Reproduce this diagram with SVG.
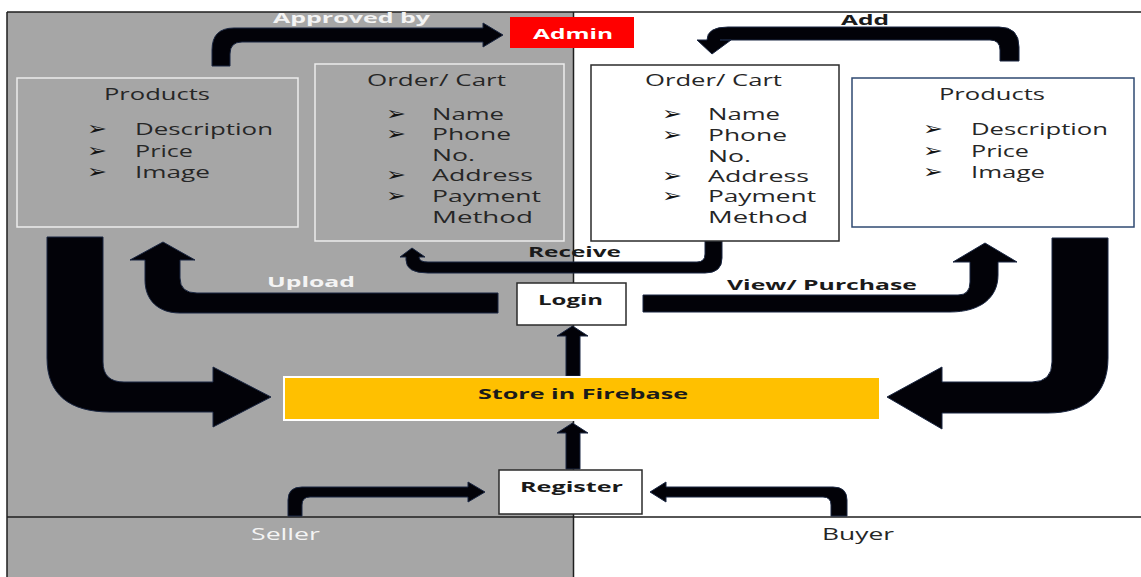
<svg xmlns="http://www.w3.org/2000/svg" width="1141" height="577" viewBox="0 0 1141 577">
  <style>
    .t { font-family: "Open Sans", "Liberation Sans", sans-serif; font-size: 15.5px; fill: #262626; }
    .lbl { font-family: "Open Sans", "Liberation Sans", sans-serif; font-size: 15px; font-weight: 700; fill: #1a1a1a; }
    .wt { fill: #f4f4f4; }
    .bul { font-family: "DejaVu Sans", sans-serif; font-size: 19px; font-weight: 700; fill: #141414; }
    .box-light { fill: none; stroke: #ececec; stroke-width: 1.5; }
    .box-dark { fill: #ffffff; stroke: #2b2b2b; stroke-width: 1.5; }
    .box-navy { fill: #ffffff; stroke: #2f4a72; stroke-width: 1.5; }
    .arrow { fill: #020208; stroke: #1b2742; stroke-width: 1; stroke-linejoin: round; }
    .lane { stroke: #1e1e1e; stroke-width: 1.5; fill: none; }
  </style>

  <!-- swimlane background: seller (grey) and buyer (white) -->
  <g id="lanes">
    <rect x="0" y="0" width="1141" height="577" fill="#ffffff"/>
    <rect x="7" y="12" width="566" height="565" fill="#a6a6a6"/>
    <line class="lane" x1="7" y1="12" x2="1141" y2="12"/>
    <line class="lane" x1="7" y1="12" x2="7" y2="577"/>
    <line class="lane" x1="7" y1="517" x2="1141" y2="517"/>
    <line class="lane" x1="573.5" y1="12" x2="573.5" y2="577" stroke-width="2"/>
    <text class="t wt" x="251" y="540" font-size="15" textLength="69" lengthAdjust="spacingAndGlyphs">Seller</text>
    <text class="t" x="822" y="540" font-size="15" textLength="72" lengthAdjust="spacingAndGlyphs">Buyer</text>
  </g>

  <!-- connectors -->
  <g id="connectors">
    <!-- seller products -> admin approval -->
    <path class="arrow" d="M212,66 V50 Q212,28 234,28 H483 V23 L503,35 L483,47 V42 H242 Q230,42 230,54 V66 Z"/>
    <!-- buyer products -> buyer cart -->
    <path class="arrow" d="M1019,61 V47 Q1019,27 999,27 H728 Q707,27 707,40 H697 L712,54 L731,40 H720 Q721,40 728,40 H990 Q1000,40 1000,50 V61 Z"/>
    <!-- seller products -> firebase -->
    <path class="arrow" d="M47,237 H103 V362 Q103,382 124,382 H213 V367 L271,397 L213,427 V412 H110 C70,412 47,395 47,358 Z"/>
    <!-- buyer products -> firebase -->
    <path class="arrow" d="M1052,238 H1108 V358 C1108,395 1085,413 1048,413 H942 V429 L887,397 L942,367 V382 H1032 Q1052,382 1052,362 Z"/>
    <!-- login -> upload products -->
    <path class="arrow" d="M498,293 H197 Q180,293 180,278 V260 H195 L163,242 L130,260 H145 V280 C145,300 158,313 180,313 H498 Z"/>
    <!-- login -> view / purchase -->
    <path class="arrow" d="M643,295 H958 Q970,295 970,282 V262 H953 L985,243 L1017,262 H998 V275 C998,298 980,312 950,312 H643 Z"/>
    <!-- buyer cart -> seller receives order -->
    <path class="arrow" d="M722,241 V258 Q722,273 705,273 H428 Q406,273 406,260 V257 H400 L412,248 L425,257 H419 Q419,262 428,262 H697 Q705,262 705,254 V241 Z"/>
    <!-- firebase -> login -->
    <path class="arrow" d="M566,376 V336 H557 L572.5,326 L588,336 H580 V376 Z"/>
    <!-- register -> firebase -->
    <path class="arrow" d="M566,469 V433 H557 L572.5,423 L588,433 H580 V469 Z"/>
    <!-- seller -> register -->
    <path class="arrow" d="M288,516 V500 Q288,487 302,487 H468 V482 L485,492 L468,502 V497 H310 Q302,497 302,505 V516 Z"/>
    <!-- buyer -> register -->
    <path class="arrow" d="M847,516 V500 Q847,487 833,487 H666 V482 L650,492 L666,502 V497 H823 Q831,497 831,505 V516 Z"/>

    <text class="lbl wt" x="273" y="23" textLength="157" lengthAdjust="spacingAndGlyphs">Approved by</text>
    <text class="lbl" x="841" y="25" textLength="48" lengthAdjust="spacingAndGlyphs">Add</text>
    <text class="lbl" x="528" y="257" font-size="14.5" textLength="93" lengthAdjust="spacingAndGlyphs">Receive</text>
    <text class="lbl wt" x="267" y="287" textLength="88" lengthAdjust="spacingAndGlyphs">Upload</text>
    <text class="lbl" x="727" y="290" textLength="190" lengthAdjust="spacingAndGlyphs">View/ Purchase</text>
  </g>

  <!-- seller: products -->
  <g id="seller-products">
    <rect class="box-light" x="17" y="78" width="281" height="149"/>
    <text class="t" x="104" y="100" textLength="106" lengthAdjust="spacingAndGlyphs">Products</text>
    <text class="bul" x="87" y="135" textLength="20" lengthAdjust="spacingAndGlyphs">➢</text>
    <text class="bul" x="87" y="157" textLength="20" lengthAdjust="spacingAndGlyphs">➢</text>
    <text class="bul" x="87" y="178" textLength="20" lengthAdjust="spacingAndGlyphs">➢</text>
    <text class="t" x="135" y="135" textLength="138" lengthAdjust="spacingAndGlyphs">Description</text>
    <text class="t" x="135" y="157" textLength="58" lengthAdjust="spacingAndGlyphs">Price</text>
    <text class="t" x="135" y="178" textLength="75" lengthAdjust="spacingAndGlyphs">Image</text>
  </g>

  <!-- seller: order / cart -->
  <g id="seller-order">
    <rect class="box-light" x="315" y="64" width="249" height="177"/>
    <text class="t" x="367" y="86" textLength="139" lengthAdjust="spacingAndGlyphs">Order/ Cart</text>
    <text class="bul" x="386" y="120" textLength="20" lengthAdjust="spacingAndGlyphs">➢</text>
    <text class="bul" x="386" y="140" textLength="20" lengthAdjust="spacingAndGlyphs">➢</text>
    <text class="bul" x="386" y="181" textLength="20" lengthAdjust="spacingAndGlyphs">➢</text>
    <text class="bul" x="386" y="202" textLength="20" lengthAdjust="spacingAndGlyphs">➢</text>
    <text class="t" x="432" y="120" textLength="72" lengthAdjust="spacingAndGlyphs">Name</text>
    <text class="t" x="432" y="140" textLength="79" lengthAdjust="spacingAndGlyphs">Phone</text>
    <text class="t" x="432" y="161" textLength="43" lengthAdjust="spacingAndGlyphs">No.</text>
    <text class="t" x="432" y="181" textLength="101" lengthAdjust="spacingAndGlyphs">Address</text>
    <text class="t" x="432" y="202" textLength="109" lengthAdjust="spacingAndGlyphs">Payment</text>
    <text class="t" x="432" y="223" textLength="101" lengthAdjust="spacingAndGlyphs">Method</text>
  </g>

  <!-- admin -->
  <g id="admin">
    <rect x="510" y="17" width="124" height="31" fill="#ff0000"/>
    <text class="lbl" x="533" y="39" font-size="16" textLength="80" lengthAdjust="spacingAndGlyphs" style="fill:#ffffff">Admin</text>
  </g>

  <!-- buyer: order / cart -->
  <g id="buyer-order">
    <rect class="box-dark" x="591" y="65" width="248" height="176"/>
    <text class="t" x="645" y="86" textLength="137" lengthAdjust="spacingAndGlyphs">Order/ Cart</text>
    <text class="bul" x="662" y="120" textLength="20" lengthAdjust="spacingAndGlyphs">➢</text>
    <text class="bul" x="662" y="141" textLength="20" lengthAdjust="spacingAndGlyphs">➢</text>
    <text class="bul" x="662" y="182" textLength="20" lengthAdjust="spacingAndGlyphs">➢</text>
    <text class="bul" x="662" y="202" textLength="20" lengthAdjust="spacingAndGlyphs">➢</text>
    <text class="t" x="708" y="120" textLength="72" lengthAdjust="spacingAndGlyphs">Name</text>
    <text class="t" x="708" y="141" textLength="79" lengthAdjust="spacingAndGlyphs">Phone</text>
    <text class="t" x="708" y="162" textLength="43" lengthAdjust="spacingAndGlyphs">No.</text>
    <text class="t" x="708" y="182" textLength="101" lengthAdjust="spacingAndGlyphs">Address</text>
    <text class="t" x="708" y="202" textLength="108" lengthAdjust="spacingAndGlyphs">Payment</text>
    <text class="t" x="708" y="223" textLength="100" lengthAdjust="spacingAndGlyphs">Method</text>
  </g>

  <!-- buyer: products -->
  <g id="buyer-products">
    <rect class="box-navy" x="852" y="78" width="282" height="149"/>
    <text class="t" x="939" y="100" textLength="106" lengthAdjust="spacingAndGlyphs">Products</text>
    <text class="bul" x="923" y="135" textLength="20" lengthAdjust="spacingAndGlyphs">➢</text>
    <text class="bul" x="923" y="157" textLength="20" lengthAdjust="spacingAndGlyphs">➢</text>
    <text class="bul" x="923" y="178" textLength="20" lengthAdjust="spacingAndGlyphs">➢</text>
    <text class="t" x="971" y="135" textLength="137" lengthAdjust="spacingAndGlyphs">Description</text>
    <text class="t" x="971" y="157" textLength="58" lengthAdjust="spacingAndGlyphs">Price</text>
    <text class="t" x="971" y="178" textLength="74" lengthAdjust="spacingAndGlyphs">Image</text>
  </g>

  <!-- login -->
  <g id="login">
    <rect class="box-dark" x="517" y="283" width="109" height="42"/>
    <text class="lbl" x="538" y="305" font-size="16" textLength="65" lengthAdjust="spacingAndGlyphs">Login</text>
  </g>

  <!-- firebase store -->
  <g id="firebase">
    <rect x="284" y="377" width="596" height="43" fill="#ffc000" stroke="#ffffff" stroke-width="2"/>
    <text class="lbl" x="478" y="399" textLength="210" lengthAdjust="spacingAndGlyphs">Store in Firebase</text>
  </g>

  <!-- register -->
  <g id="register">
    <rect class="box-dark" x="499" y="470" width="143" height="44"/>
    <text class="lbl" x="520" y="492" textLength="103" lengthAdjust="spacingAndGlyphs">Register</text>
  </g>
</svg>
